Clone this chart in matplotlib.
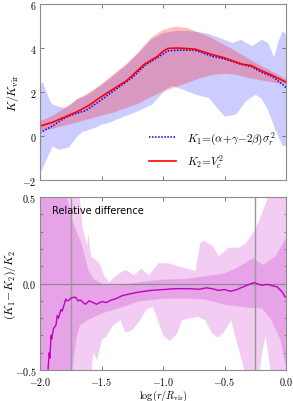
import matplotlib
matplotlib.use("Agg")
import matplotlib.pyplot as plt
import numpy as np
from matplotlib.ticker import FuncFormatter, MultipleLocator

plt.rcParams['mathtext.fontset'] = 'cm'
plt.rcParams['font.family'] = ['DejaVu Sans']

# ---------------- top panel data ----------------
x_k2 = [-2.0, -1.9, -1.8, -1.7, -1.6, -1.53, -1.47, -1.4, -1.3, -1.25, -1.15, -1.05, -1.0,
        -0.96, -0.88, -0.74, -0.6, -0.5, -0.36, -0.28, -0.2, -0.11, 0.0]
k2 = [0.45, 0.62, 0.86, 1.1, 1.4, 1.68, 1.9, 2.15, 2.5, 2.75, 3.27, 3.6, 3.85,
      3.98, 4.0, 3.95, 3.7, 3.55, 3.27, 3.2, 2.97, 2.75, 2.45]

x_k1 = [-2.0, -1.9, -1.8, -1.72, -1.63, -1.53, -1.39, -1.25, -1.15, -1.05, -0.96, -0.88,
        -0.74, -0.6, -0.5, -0.36, -0.28, -0.2, -0.11, -0.03, 0.0]
k1 = [0.15, 0.45, 0.82, 1.0, 1.15, 1.53, 2.1, 2.65, 3.2, 3.55, 3.87, 3.9,
      3.9, 3.62, 3.5, 3.25, 3.15, 2.9, 2.7, 2.35, 2.2]

x_red_band = [-2.0, -1.9, -1.8, -1.7, -1.6, -1.5, -1.4, -1.3, -1.2, -1.1, -1.0, -0.9,
              -0.8, -0.7, -0.6, -0.5, -0.4, -0.3, -0.2, -0.1, 0.0]
red_hi = [0.7, 0.95, 1.3, 1.7, 2.0, 2.4, 2.85, 3.3, 3.85, 4.5, 4.85, 5.0,
          4.92, 4.7, 4.45, 4.15, 3.85, 3.5, 3.2, 2.9, 2.6]
red_lo = [0.25, 0.35, 0.5, 0.65, 0.8, 0.95, 1.1, 1.3, 1.5, 1.8, 2.05, 2.25,
          2.45, 2.65, 2.8, 2.85, 2.8, 2.65, 2.55, 2.45, 2.35]

x_blue_hi = [-2.0, -1.98, -1.95, -1.92, -1.9, -1.85, -1.8, -1.75, -1.7, -1.65, -1.6, -1.5,
             -1.4, -1.3, -1.2, -1.1, -1.0, -0.9, -0.8, -0.66, -0.55, -0.44, -0.37, -0.28,
             -0.2, -0.15, -0.1, -0.07, -0.03, 0.0]
blue_hi = [2.4, 2.45, 2.0, 1.6, 1.45, 1.35, 1.3, 1.45, 1.7, 1.8, 1.95, 2.35,
           2.8, 3.25, 3.8, 4.4, 4.7, 4.8, 4.8, 4.7, 4.5, 4.25, 4.4, 4.1,
           4.4, 4.25, 3.6, 4.25, 4.8, 4.6]

x_blue_lo = [-2.0, -1.97, -1.93, -1.9, -1.85, -1.77, -1.7, -1.66, -1.55, -1.5, -1.45, -1.38,
             -1.23, -1.09, -0.98, -0.93, -0.85, -0.74, -0.63, -0.55, -0.5, -0.41, -0.33,
             -0.25, -0.2, -0.15, -0.09, -0.03, 0.0]
blue_lo = [-1.65, -1.3, -0.8, -0.45, -0.6, -0.5, 0.0, 0.2, 0.4, 0.55, 0.6, 0.77,
           1.1, 1.45, 2.15, 2.3, 2.15, 1.9, 1.75, 1.2, 0.9, 1.0, 1.6,
           1.9, 1.7, 1.2, 0.3, -0.45, -0.4]

# ---------------- bottom panel data ----------------
x_rel = [-1.95, -1.935, -1.925, -1.92, -1.91, -1.905, -1.89, -1.87, -1.86, -1.85, -1.83,
         -1.82, -1.79, -1.78, -1.76, -1.75, -1.73, -1.71, -1.69, -1.67, -1.65, -1.63,
         -1.6, -1.57, -1.54, -1.5, -1.46, -1.42, -1.39, -1.33, -1.3, -1.2, -1.1, -1.0,
         -0.9, -0.8, -0.7, -0.65, -0.6, -0.55, -0.5, -0.45, -0.4, -0.35, -0.3, -0.26,
         -0.24, -0.2, -0.15, -0.1, -0.07, -0.05, -0.03, -0.01, 0.0]
rel = [-0.56, -0.5, -0.40, -0.43, -0.30, -0.32, -0.26, -0.24, -0.185, -0.2, -0.15,
       -0.16, -0.09, -0.1, -0.095, -0.085, -0.08, -0.08, -0.1, -0.095, -0.11, -0.12,
       -0.1, -0.11, -0.12, -0.105, -0.11, -0.095, -0.09, -0.07, -0.065, -0.05, -0.04, -0.035,
       -0.03, -0.03, -0.033, -0.025, -0.03, -0.04, -0.035, -0.045, -0.035, -0.02, -0.005, 0.005,
       0.0, -0.01, -0.005, -0.015, -0.02, -0.035, -0.05, -0.075, -0.08]

x_dark_hi = [-2.0, -1.85, -1.8, -1.75, -1.7, -1.67, -1.61, -1.57, -1.5, -1.4, -1.3, -1.2,
             -1.08, -1.0, -0.8, -0.66, -0.51, -0.41, -0.27, -0.19, -0.09, 0.0]
dark_hi = [0.9, 0.7, 0.55, 0.39, 0.29, 0.24, 0.08, 0.03, 0.0, -0.01, 0.0, 0.01,
           0.02, 0.025, 0.03, 0.045, 0.06, 0.09, 0.15, 0.11, 0.16, 0.27]
x_dark_lo = [-2.0, -1.76, -1.74, -1.71, -1.68, -1.62, -1.5, -1.36, -1.2, -1.0, -0.8,
             -0.66, -0.5, -0.27, -0.2, -0.13, -0.05, 0.0]
dark_lo = [-0.9, -0.6, -0.49, -0.32, -0.24, -0.21, -0.17, -0.14, -0.1, -0.085, -0.085,
           -0.09, -0.12, -0.14, -0.14, -0.2, -0.32, -0.5]

x_light_hi = [-2.0, -1.7, -1.68, -1.66, -1.62, -1.61, -1.59, -1.52, -1.48, -1.44, -1.39,
              -1.33, -1.3, -1.24, -1.18, -1.12, -1.04, -0.96, -0.82, -0.74, -0.7, -0.67,
              -0.6, -0.55, -0.47, -0.39, -0.33, -0.26, -0.22, -0.15, 0.0]
light_hi = [1.0, 0.6, 0.5, 0.33, 0.22, 0.29, 0.16, 0.12, 0.045, 0.01, 0.045,
            0.075, 0.08, 0.05, 0.09, 0.05, 0.12, 0.12, 0.09, 0.075, 0.24, 0.25,
            0.22, 0.16, 0.21, 0.21, 0.235, 0.31, 0.37, 0.5, 0.8]
x_light_lo = [-2.0, -1.6, -1.57, -1.54, -1.5, -1.47, -1.41, -1.35, -1.31, -1.26, -1.2,
              -1.14, -1.09, -1.06, -1.0, -0.95, -0.89, -0.85, -0.79, -0.72, -0.66, -0.61,
              -0.56, -0.51, -0.45, -0.41, -0.36, -0.33, -0.25, -0.2, -0.17, -0.13, -0.08, 0.0]
light_lo = [-1.0, -0.6, -0.4, -0.44, -0.32, -0.31, -0.24, -0.21, -0.28, -0.27, -0.22,
            -0.15, -0.13, -0.18, -0.3, -0.33, -0.29, -0.21, -0.2, -0.19, -0.21, -0.28,
            -0.31, -0.28, -0.21, -0.32, -0.45, -0.55, -0.7, -0.4, -0.3, -0.5, -0.75, -0.9]

vlines_x = [-1.75, -0.25]

fig = plt.figure(figsize=(2.93, 4.02), dpi=100)
ax1 = fig.add_axes([40/293, 1 - 181/402, 246/293, 176/402])
ax2 = fig.add_axes([40/293, 1 - 371/402, 246/293, 173/402])

TICK_FS = 7.2


def mfmt(fmt):
    return FuncFormatter(lambda v, p: '$' + (fmt % v) + '$')


for ax in (ax1, ax2):
    for s in ax.spines.values():
        s.set_color('0.55')
    ax.tick_params(direction='in', top=True, right=True, colors='0.4',
                   labelcolor='black', labelsize=TICK_FS, length=3, width=0.6, pad=2.5)
    ax.tick_params(which='minor', direction='in', top=True, right=True,
                   colors='0.4', length=1.8, width=0.5)
    ax.tick_params(axis='x', pad=3.6)
    ax.set_xlim(-2.0, 0.0)
    ax.xaxis.set_major_locator(MultipleLocator(0.5))

# top panel
xb = np.union1d(x_blue_hi, x_blue_lo)
ax1.fill_between(xb, np.interp(xb, x_blue_lo, blue_lo), np.interp(xb, x_blue_hi, blue_hi),
                 color='b', alpha=0.2, lw=0)
ax1.fill_between(x_red_band, red_lo, red_hi, color='r', alpha=0.25, lw=0)
ax1.plot(x_k1, k1, color='b', ls=(0, (1, 1)), lw=1.1,
         label=r'$K_1\!=\!(\alpha\!+\!\gamma\!-\!2\beta)\sigma_r^{\,2}$')
ax1.plot(x_k2, k2, color='r', ls='-', lw=1.2, label=r'$K_2\!=\!V_c^2$')
ax1.set_ylim(-2, 6)
ax1.yaxis.set_major_locator(MultipleLocator(2))
ax1.yaxis.set_major_formatter(mfmt('%d'))
ax1.set_xticklabels([])
ax1.set_ylabel(r'$K/K_{\rm vir}$', fontsize=8.5)
ax1.yaxis.set_label_coords(-0.077, 0.5)
leg = ax1.legend(loc='lower right', frameon=False, fontsize=8, handlelength=2.4,
                 borderaxespad=0.5, labelspacing=0.55, handletextpad=1.0)

# bottom panel
xl = np.union1d(x_light_hi, x_light_lo)
ax2.fill_between(xl, np.interp(xl, x_light_lo, light_lo), np.interp(xl, x_light_hi, light_hi),
                 color='m', alpha=0.2, lw=0)
xd = np.union1d(x_dark_hi, x_dark_lo)
ax2.fill_between(xd, np.interp(xd, x_dark_lo, dark_lo), np.interp(xd, x_dark_hi, dark_hi),
                 color='m', alpha=0.2, lw=0)
ax2.axhline(0.0, color='0.55', lw=0.9)
for xv in vlines_x:
    ax2.axvline(xv, color='0.6', lw=1.0)
ax2.plot(x_rel, rel, color='m', lw=1.0)
ax2.set_ylim(-0.5, 0.5)
ax2.yaxis.set_major_locator(MultipleLocator(0.5))
ax2.yaxis.set_minor_locator(MultipleLocator(0.1))
ax2.yaxis.set_major_formatter(mfmt('%.1f'))
ax2.xaxis.set_major_formatter(mfmt('%.1f'))
ax2.set_ylabel(r'$(K_1\!-\!K_2)/K_2$', fontsize=8.5)
ax2.yaxis.set_label_coords(-0.09, 0.5)
ax2.set_xlabel(r'$\log(r/R_{\rm vir})$', fontsize=7.4)
ax2.xaxis.set_label_coords(0.5, -0.102)
ax2.text(0.05, 0.925, 'Relative difference', transform=ax2.transAxes,
         fontsize=7, va='center', ha='left')

fig.savefig('out.png', dpi=100)
